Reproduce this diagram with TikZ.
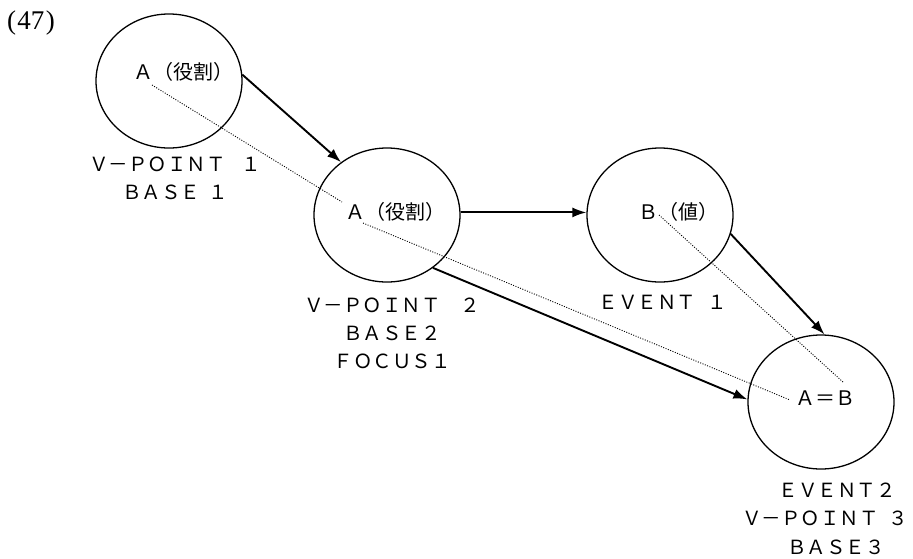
\documentclass[tikz,border=0pt]{standalone}
\usepackage{fontspec}
\setmainfont{Liberation Serif}
\newfontfamily\jpfont{Noto Sans CJK JP}
\usetikzlibrary{shapes.geometric,arrows.meta}

\begin{document}
\begin{tikzpicture}[x=1pt,y=-1pt,
  bubble/.style={draw, ellipse, line width=1.3pt, minimum width=146pt,
    minimum height=134pt, inner sep=0pt},
  inner/.style={font=\jpfont\fontsize{20}{20}\selectfont, inner sep=0pt},
  caption/.style={font=\jpfont\fontsize{19.5}{28}\selectfont, align=center, inner sep=0pt},
  flow/.style={line width=1.9pt, -{Latex[length=14pt,width=10pt]}},
  trace/.style={line width=0.9pt, dash pattern=on 1pt off 1.5pt}]
\useasboundingbox (0,0) rectangle (913,558);

% example number
\node[font=\fontsize{27}{27}\selectfont, inner sep=0pt] (num) at (31,23) {(\kern1.5pt47\kern1.5pt)};

% the four situations
\node[bubble] (c1) at (169,81) {};
\node[bubble] (c2) at (387,215) {};
\node[bubble] (c3) at (660,215) {};
\node[bubble] (c4) at (821,402) {};

% contents of the situations
\node[inner] (t1) at (183,72) {Ａ（役割）};
\node[inner] (t2) at (395,212) {Ａ（役割）};
\node[inner] (t3) at (678,212) {Ｂ（値）};
\node[inner] (t4) at (825,398) {Ａ＝Ｂ};

% captions
\node[caption] (l1) at (175,178) {Ｖ－ＰＯＩＮＴ\hspace{0.8em}１\\ＢＡＳＥ\hspace{0.4em}１};
\node[caption] (l2) at (392,333) {Ｖ－ＰＯＩＮＴ\hspace{1em}２\\ＢＡＳＥ２\\ＦＯＣＵＳ１};
\node[caption] (l3) at (663,302) {ＥＶＥＮＴ\hspace{0.6em}１};
\node[caption] (l4a) at (837,490) {ＥＶＥＮＴ２};
\node[caption] (l4b) at (825,518) {Ｖ－ＰＯＩＮＴ\hspace{0.5em}３};
\node[caption] (l4c) at (836,547) {ＢＡＳＥ３};

% transitions
\draw[flow] (c1.5) -- (c2.131);
\draw[flow] (c2.2) -- (c3.178);
\draw[flow] (c3.-15) -- (c4.87);
\draw[flow] (c2.-49) -- (c4.178);

% identity traces between the values
\coordinate (d1a) at (152,85);
\coordinate (d1b) at (342,202);
\coordinate (d2a) at (363,223);
\coordinate (d2b) at (790,400);
\coordinate (d3a) at (659,215);
\coordinate (d3b) at (843,382);
\draw[trace] (d1a) -- (d1b);
\draw[trace] (d2a) -- (d2b);
\draw[trace] (d3a) -- (d3b);
\end{tikzpicture}
\end{document}
